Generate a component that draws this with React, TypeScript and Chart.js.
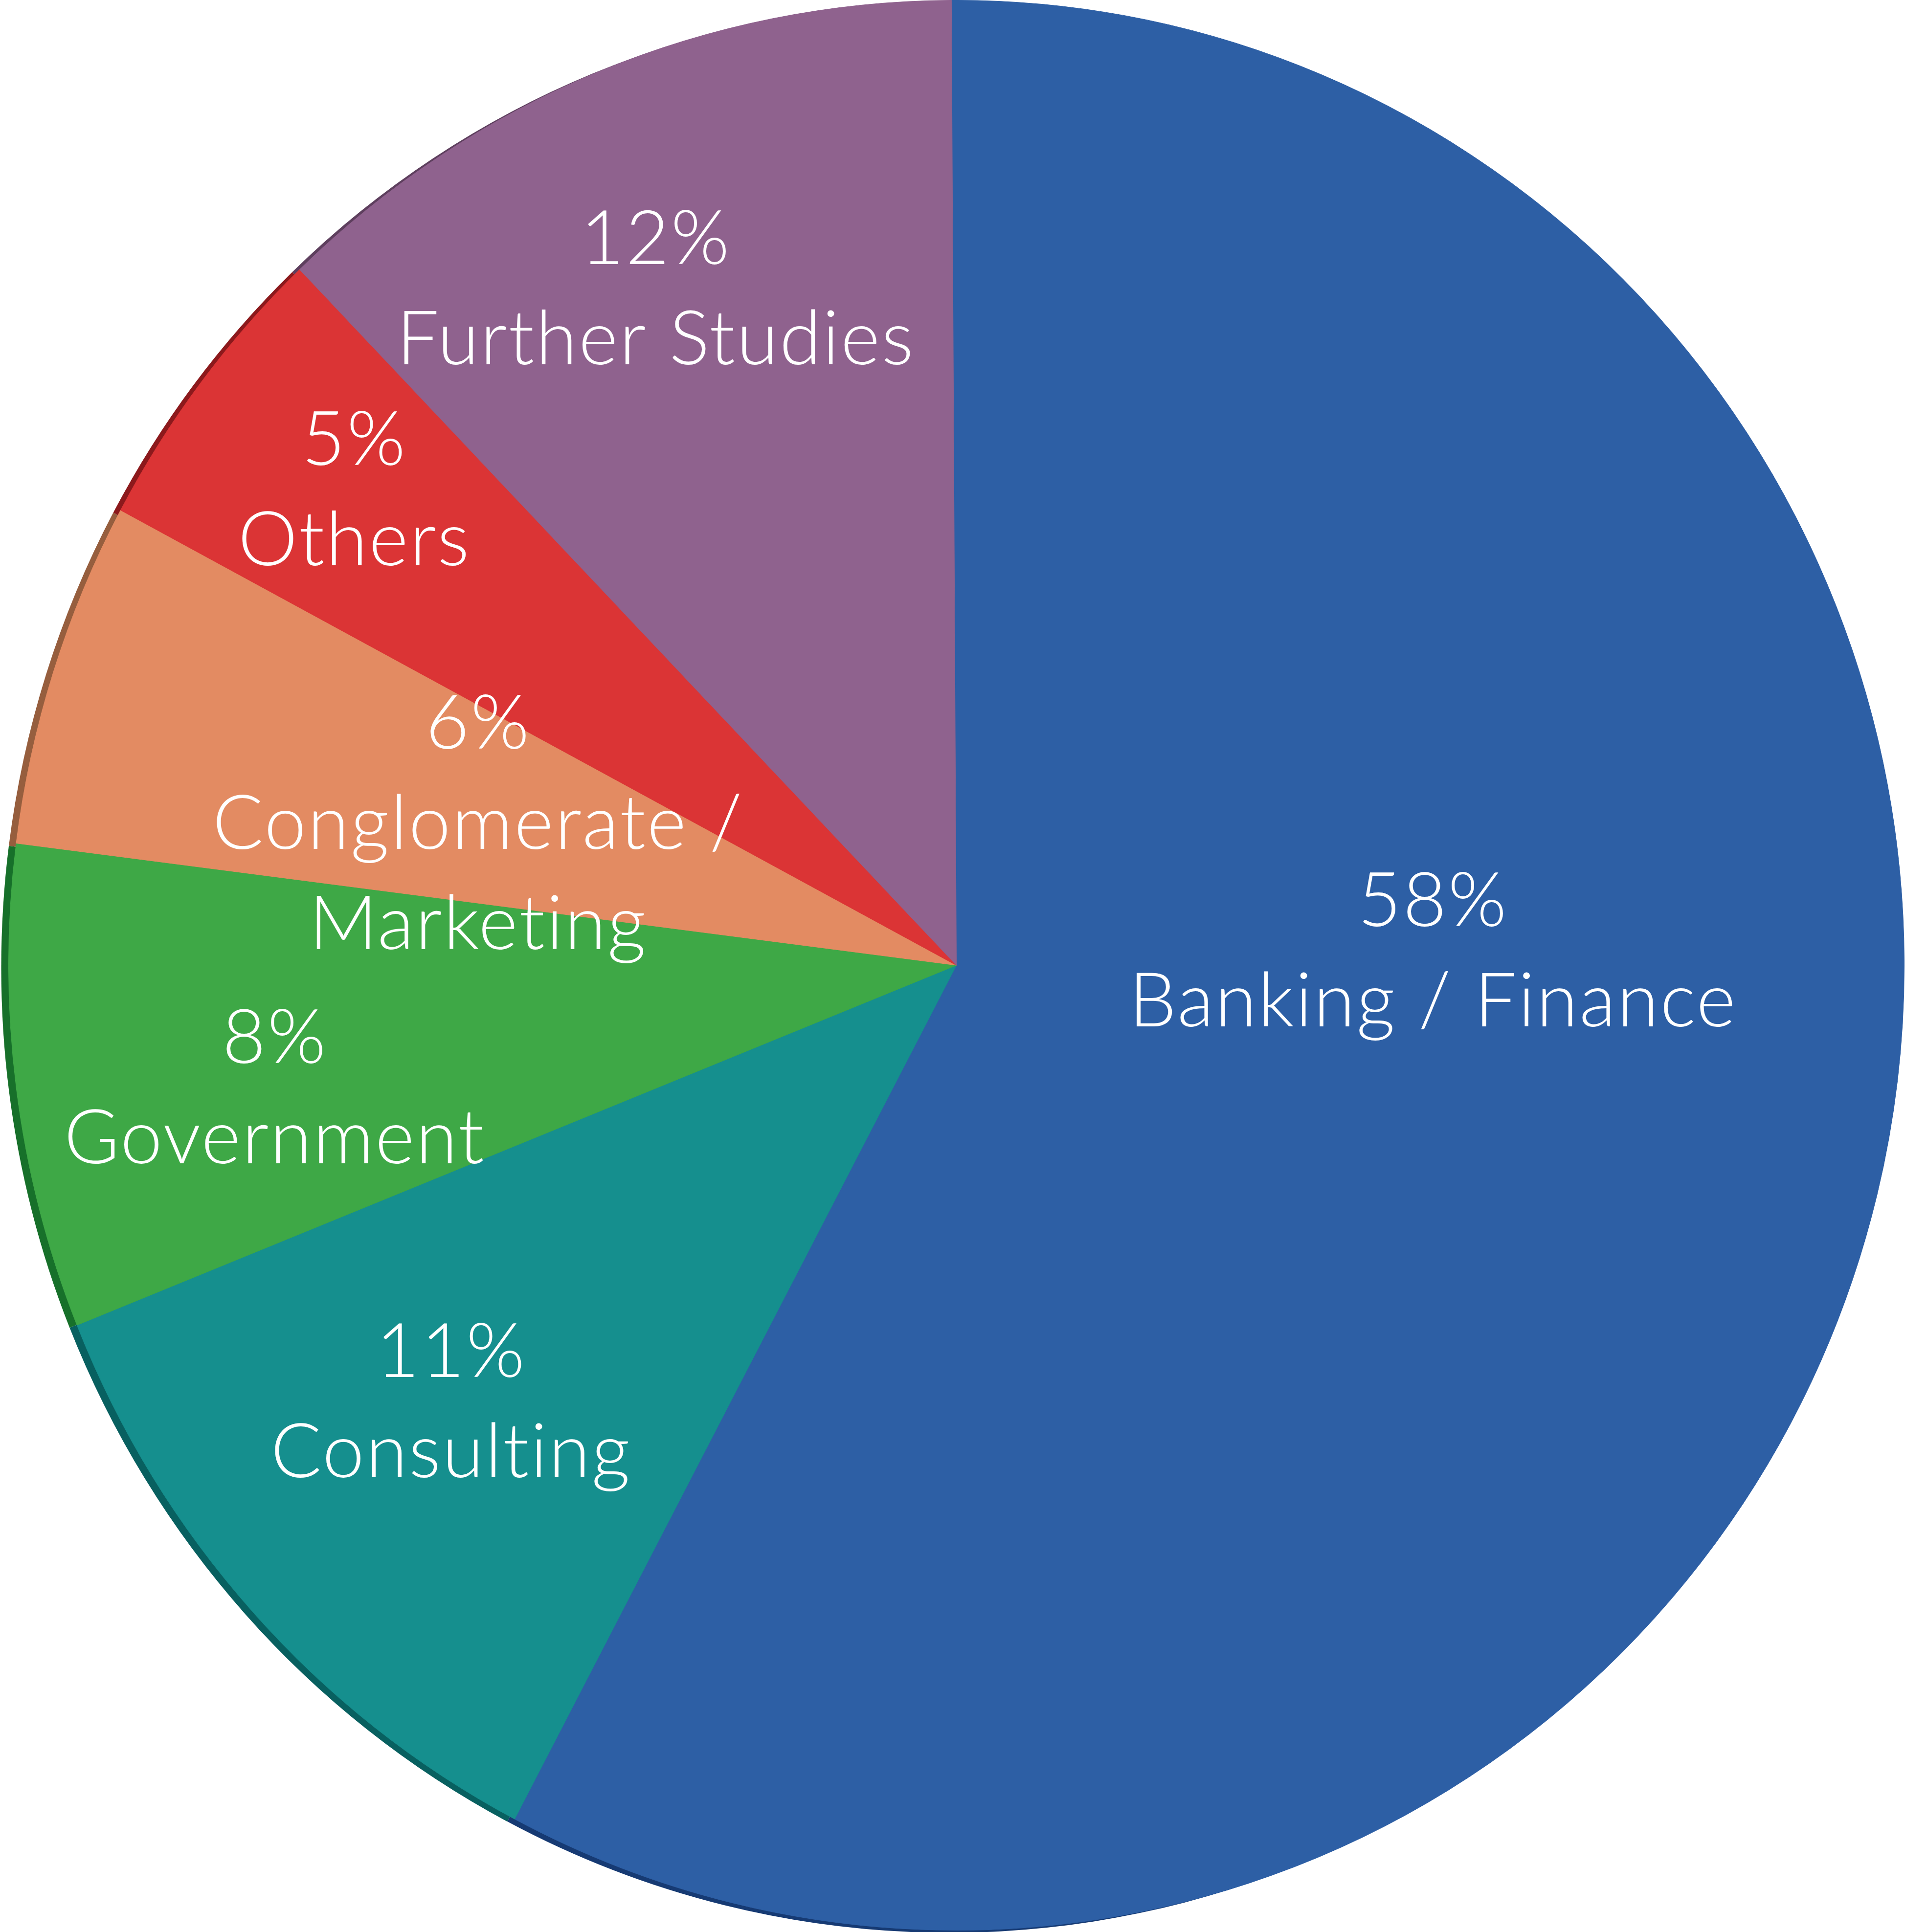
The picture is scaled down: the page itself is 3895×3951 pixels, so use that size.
import React, { useEffect, useRef } from 'react';
import { Chart, registerables } from 'chart.js';

Chart.register(...registerables);

const categories: (string | string[])[] = [
    'Banking / Finance',
    'Consulting',
    'Government',
    ['Conglomerate /', 'Marketing'],
    'Others',
    'Further Studies',
];
// slice sizes; the labels show them rounded
const shares = [57.8, 11.2, 8.1, 5.8, 5.0, 12.1];

const sliceColors = ['#2D5FA5', '#158F8E', '#3EA846', '#E38B62', '#DB3435', '#8F628E'];
const rimColors = ['#163A73', '#086060', '#17702A', '#965E3E', '#8C191C', '#5E3F5E'];

// label block placement: angle clockwise from 12 o'clock, distance as part of the radius
const labelAngles = [88.1, 229.8, 260.1, 286.4, 307.9, 335.7];
const labelRadii = [0.503, 0.698, 0.73, 0.526, 0.805, 0.771];

const STRETCH_Y = 1974 / 1938.5; // the original pie is a touch taller than wide
const RIM_DX = -15;
const RIM_DY = 5;
const FONT_SIZE = 154;
const CAP_HALF = 55;
const LINE_GAP = 205;

const pieLook = {
    id: 'pieLook',
    beforeDatasetsDraw(chart: any) {
        const ctx = chart.ctx;
        const arcs = chart.getDatasetMeta(0).data;
        const cx = arcs[0].x;
        const cy = arcs[0].y;
        ctx.save();
        ctx.translate(cx, cy);
        ctx.scale(1, STRETCH_Y);
        ctx.translate(-cx, -cy);
        // dark rim peeking out on the lower left
        arcs.forEach((arc: any, i: number) => {
            const { x, y, startAngle, endAngle, outerRadius } = arc.getProps(
                ['x', 'y', 'startAngle', 'endAngle', 'outerRadius'],
                true
            );
            ctx.beginPath();
            ctx.moveTo(x + RIM_DX, y + RIM_DY);
            ctx.arc(x + RIM_DX, y + RIM_DY, outerRadius, startAngle, endAngle);
            ctx.closePath();
            ctx.fillStyle = rimColors[i];
            ctx.fill();
        });
    },
    afterDatasetsDraw(chart: any) {
        const ctx = chart.ctx;
        ctx.restore();
        const arcs = chart.getDatasetMeta(0).data;
        ctx.save();
        ctx.fillStyle = '#ffffff';
        ctx.font = `300 ${FONT_SIZE}px Lato, "Open Sans", sans-serif`;
        ctx.letterSpacing = '3px';
        ctx.textAlign = 'center';
        ctx.textBaseline = 'alphabetic';
        arcs.forEach((arc: any, i: number) => {
            const a = (labelAngles[i] * Math.PI) / 180;
            const r = arc.outerRadius * labelRadii[i];
            const bx = arc.x + Math.sin(a) * r;
            const by = arc.y - Math.cos(a) * r * STRETCH_Y;
            const cat = categories[i];
            const lines = [`${Math.round(shares[i])}%`, ...(Array.isArray(cat) ? cat : [cat])];
            lines.forEach((line, j) => {
                const mid = by + (j - (lines.length - 1) / 2) * LINE_GAP;
                ctx.fillText(line, bx, mid + CAP_HALF);
            });
        });
        ctx.restore();
    },
};

const App: React.FC = () => {
    const chartRef = useRef<HTMLCanvasElement>(null);
    const chartInstanceRef = useRef<Chart | null>(null);

    useEffect(() => {
        document.body.style.margin = '0';
        if (chartRef.current) {
            const ctx = chartRef.current.getContext('2d');
            if (ctx) {
                if (chartInstanceRef.current) {
                    chartInstanceRef.current.destroy();
                }
                chartInstanceRef.current = new Chart(ctx, {
                    type: 'pie',
                    data: {
                        labels: categories as any,
                        datasets: [
                            {
                                data: shares,
                                backgroundColor: sliceColors,
                                borderColor: sliceColors,
                                borderWidth: 1,
                                clip: false as any,
                            },
                        ],
                    },
                    options: {
                        responsive: true,
                        maintainAspectRatio: false,
                        animation: false,
                        rotation: -0.3,
                        layout: {
                            padding: { left: 17, right: 1, top: 0, bottom: 3 },
                        },
                        plugins: {
                            legend: { display: false },
                            tooltip: { enabled: false },
                        },
                    },
                    plugins: [pieLook],
                });
            }
        }
        return () => {
            if (chartInstanceRef.current) {
                chartInstanceRef.current.destroy();
                chartInstanceRef.current = null;
            }
        };
    }, []);

    return (
        <div style={{ width: 3895, height: 3951, position: 'relative', background: '#ffffff' }}>
            <canvas ref={chartRef}></canvas>
        </div>
    );
};

export default App;
